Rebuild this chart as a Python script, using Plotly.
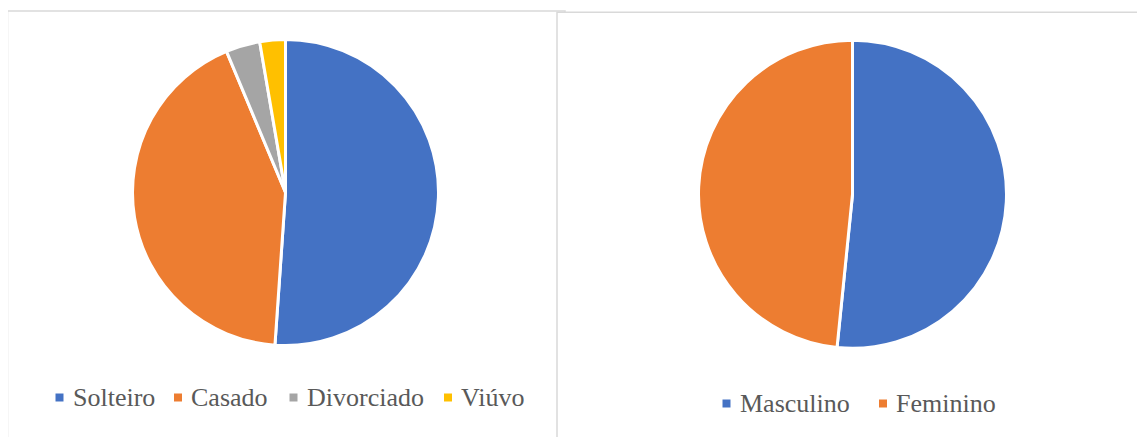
import plotly.graph_objects as go

# Viewport and page offset (default body margin of the HTML page)
VW, VH = 1145, 437
OFF = 8
W, H = VW - OFF, VH - OFF

# Data
civil_labels = ["Solteiro", "Casado", "Divorciado", "Viúvo"]
civil_values = [51.1, 42.6, 3.6, 2.7]
civil_colors = ["#4472C4", "#ED7D31", "#A5A5A5", "#FFC000"]

sex_labels = ["Masculino", "Feminino"]
sex_values = [51.6, 48.4]
sex_colors = ["#4472C4", "#ED7D31"]

# Legend layout (text start positions in page pixels, vertical centre)
civil_legend_x = [72.5, 191.0, 306.5, 461.0]
civil_legend_y = 397.5
sex_legend_x = [739.5, 896.0]
sex_legend_y = 403.5

FONT = "Liberation Serif"
TXT = "#595959"
MARK = 8        # legend square size
MARK_GAP = 9    # gap between square and text


def px_x(v):
    return (v - OFF) / W


def px_y(v):
    return 1 - (v - OFF) / H


fig = go.Figure()

fig.add_trace(go.Pie(
    labels=civil_labels, values=civil_values,
    marker=dict(colors=civil_colors, line=dict(color="white", width=3)),
    sort=False, direction="clockwise", rotation=0,
    textinfo="none", hoverinfo="label+percent",
    domain=dict(x=[px_x(132.5), px_x(438.5)], y=[px_y(345.5), px_y(39.5)]),
    showlegend=False,
))

fig.add_trace(go.Pie(
    labels=sex_labels, values=sex_values,
    marker=dict(colors=sex_colors, line=dict(color="white", width=3)),
    sort=False, direction="clockwise", rotation=0,
    textinfo="none", hoverinfo="label+percent",
    domain=dict(x=[px_x(698.5), px_x(1006.5)], y=[px_y(348.5), px_y(40)]),
    showlegend=False,
))

shapes = [
    dict(type="rect", xref="paper", yref="paper", layer="below",
         x0=px_x(7.5), x1=px_x(565), y0=px_y(450), y1=px_y(11),
         line=dict(color="#D9D9D9", width=1.5), fillcolor="white"),
    dict(type="rect", xref="paper", yref="paper", layer="below",
         x0=px_x(557), x1=px_x(1160), y0=px_y(450), y1=px_y(12.3),
         line=dict(color="#D9D9D9", width=1.5), fillcolor="white"),
]
annotations = []


def add_legend(labels, colors, xs, yc):
    for lab, col, tx in zip(labels, colors, xs):
        mx1 = tx - MARK_GAP
        mx0 = mx1 - MARK
        shapes.append(dict(
            type="rect", xref="paper", yref="paper", layer="above",
            x0=px_x(mx0), x1=px_x(mx1),
            y0=px_y(yc + MARK / 2), y1=px_y(yc - MARK / 2),
            line=dict(width=0), fillcolor=col,
        ))
        annotations.append(dict(
            text=lab, xref="paper", yref="paper",
            x=px_x(tx - 2), y=px_y(yc), xanchor="left", yanchor="middle",
            showarrow=False, font=dict(family=FONT, size=26, color=TXT),
        ))


add_legend(civil_labels, civil_colors, civil_legend_x, civil_legend_y)
add_legend(sex_labels, sex_colors, sex_legend_x, sex_legend_y)

fig.update_layout(
    width=W, height=H,
    margin=dict(l=0, r=0, t=0, b=0),
    paper_bgcolor="white",
    plot_bgcolor="white",
    font=dict(family=FONT, color=TXT),
    showlegend=False,
    shapes=shapes,
    annotations=annotations,
)

fig.write_html("out.html")
